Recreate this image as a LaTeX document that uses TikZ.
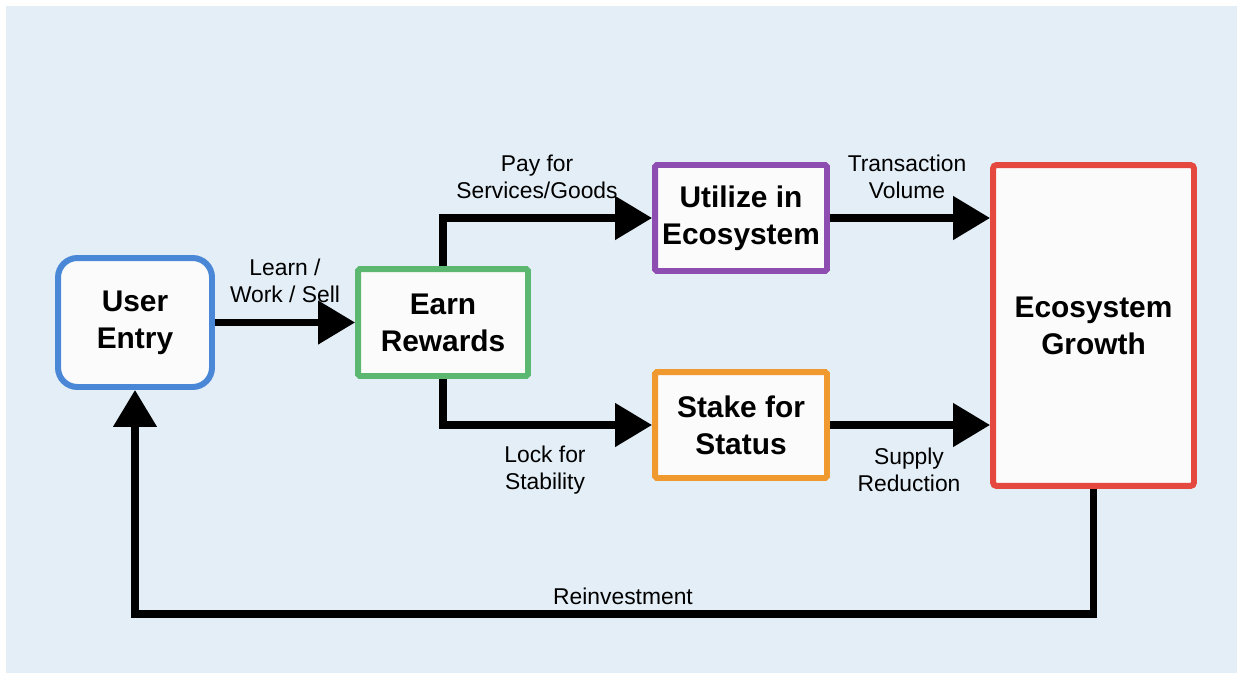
\documentclass[tikz,border=0pt]{standalone}
\usepackage{fontspec}
\setmainfont{Liberation Sans}
\usepackage{tikz}
\usetikzlibrary{arrows.meta, positioning}
\definecolor{bgblue}{HTML}{E3EEF6}
\definecolor{boxfill}{HTML}{FBFBFB}
\definecolor{entryblue}{HTML}{4A87D6}
\definecolor{earngreen}{HTML}{5CB870}
\definecolor{utilpurple}{HTML}{8E4DB0}
\definecolor{stakeorange}{HTML}{F0992F}
\definecolor{growthred}{HTML}{E5483F}
\tikzset{
    stagebox/.style={draw=#1, line width=3.4pt, fill=boxfill, align=center,
        font=\fontsize{17}{21}\selectfont\bfseries, inner sep=2pt},
    flowlabel/.style={align=center, font=\fontsize{13}{15}\selectfont},
    flow/.style={line width=4pt, -{Triangle[length=21pt, width=24pt]}},
}

\begin{document}
\begin{tikzpicture}[x=0.02cm, y=-0.02cm]
    \fill[white] (0,0) rectangle (1243,679);
    \fill[bgblue] (6,6) rectangle (1237,673);

    \node[stagebox=entryblue, rounded corners=11pt, minimum width=3.08cm, minimum height=2.58cm] (entry) at (135,322.5) {User\\Entry};
    \node[stagebox=earngreen, rounded corners=1pt, minimum width=3.4cm, minimum height=2.14cm] (earn) at (443,322.5) {Earn\\Rewards};
    \node[stagebox=utilpurple, rounded corners=1pt, minimum width=3.44cm, minimum height=2.12cm] (util) at (741,218) {Utilize in\\Ecosystem};
    \node[stagebox=stakeorange, rounded corners=1pt, minimum width=3.44cm, minimum height=2.12cm] (stake) at (741,425) {Stake for\\Status};
    \node[stagebox=growthred, rounded corners=2pt, minimum width=4.02cm, minimum height=6.42cm] (growth) at (1093.5,325.5) {Ecosystem\\Growth};

    \node[flowlabel] (learn) at (285,281) {Learn /\\Work / Sell};
    \node[flowlabel] (pay) at (537,177) {Pay for\\Services/Goods};
    \node[flowlabel] (volume) at (907,177) {Transaction\\Volume};
    \node[flowlabel] (lock) at (545,470) {Lock for\\Stability};
    \node[flowlabel] (supply) at (909,470) {Supply\\Reduction};

    \draw[flow] (entry.east) -- (earn.west);
    \draw[flow] (earn.north) |- (util.west);
    \draw[flow] (earn.south) |- (stake.west);
    \draw[flow] (util.east) -- (util.east -| growth.west);
    \draw[flow] (stake.east) -- (stake.east -| growth.west);

    \coordinate (loop) at (1093.5,614);
    \draw[flow] (growth.south) |- (loop) -| (entry.south);
    \node[flowlabel] (reinvest) at (623,596) {Reinvestment};
\end{tikzpicture}
\end{document}
